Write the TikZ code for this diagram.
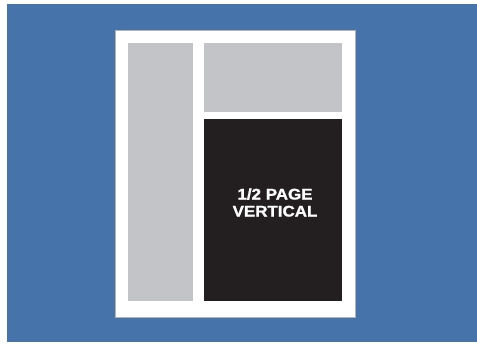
\documentclass[tikz,border=0pt]{standalone}
\usepackage{fontspec}
\setmainfont{Liberation Sans}
\newfontfamily\heavyfont[FakeBold=1.2]{Liberation Sans Bold}
\usepackage{xcolor}
\usepackage{tikz}
\usetikzlibrary{positioning}
\definecolor{bgblue}{HTML}{4673AA}
\definecolor{slot}{HTML}{C3C4C8}
\definecolor{adblack}{HTML}{231F20}
\tikzset{
  page/.style={fill=white,draw=gray!60,line width=0.8pt},
  slotbox/.style={fill=slot},
  adbox/.style={fill=adblack},
  adlabel/.style={text=white,font=\heavyfont\fontsize{15.4}{17}\selectfont,align=center,xscale=1.1},
}
\begin{document}
\begin{tikzpicture}[x=1pt,y=-1pt]
\useasboundingbox (0,0) rectangle (477,345);
\fill[bgblue] (7,4) rectangle (477,342);
\draw[page] (115.5,30) rectangle (355.5,317);
\fill[slotbox] (128,43) rectangle (193,301);
\fill[slotbox] (204,43) rectangle (342,112);
\fill[adbox] (204,119) rectangle (342,301);
\node[adlabel] (half) at (275,202.5) {1/2 PAGE\\VERTICAL};
\end{tikzpicture}
\end{document}
